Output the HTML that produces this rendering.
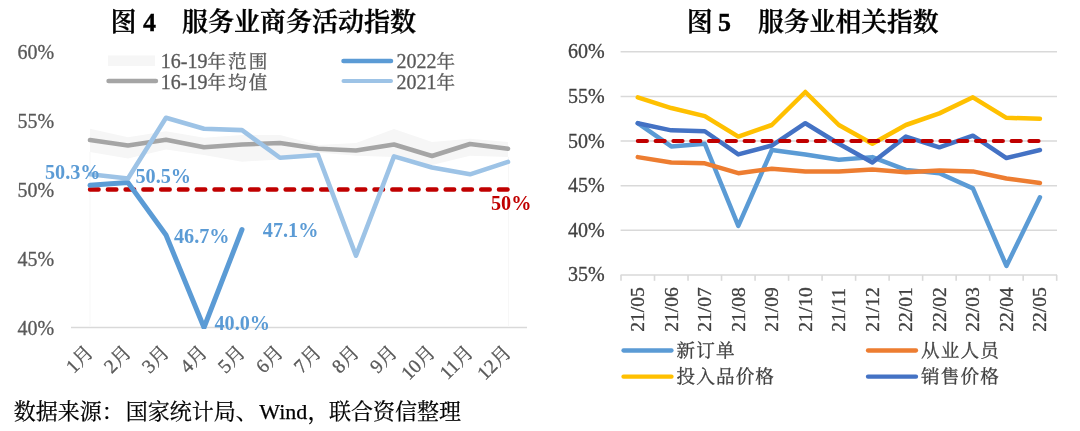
<!DOCTYPE html>
<html lang="zh-CN"><head><meta charset="utf-8"><title>服务业指数</title>
<style>
html,body{margin:0;padding:0;background:#fff;}
body{width:1080px;height:431px;overflow:hidden;}
svg{display:block;}
text{font-family:"Liberation Serif","Noto Serif CJK SC",serif;}
.ttl{font-weight:600;font-size:26px;fill:#000;stroke:#000;stroke-width:0.35px;}
.ax{font-size:20px;fill:#595959;stroke:#595959;stroke-width:0.3px;}
#right .ax,#right .lg{fill:#404040;stroke:#404040;}
.lg{font-size:20px;fill:#595959;stroke:#595959;stroke-width:0.3px;}
.dl{font-size:20.2px;font-weight:bold;fill:#5B9BD5;}
.src{font-size:22px;fill:#000;stroke:#000;stroke-width:0.25px;}
text .cj,text.cj{font-size:18.6px;letter-spacing:2px;}
#right text.cj{font-size:18.6px;letter-spacing:1.1px;}
.ln{fill:none;stroke-linejoin:round;stroke-linecap:round;}
</style></head><body>
<svg width="1080" height="431" viewBox="0 0 1080 431">
<rect width="1080" height="431" fill="#fff"/>

<g id="left">
<text class="ttl" x="110.4" y="30.5">图 4</text>
<text class="ttl" x="182" y="30.5">服务业商务活动指数</text>
<text class="ax" x="17.5" y="58.5">60%</text>
<text class="ax" x="17.5" y="127.5">55%</text>
<text class="ax" x="17.5" y="196.5">50%</text>
<text class="ax" x="17.5" y="265.5">45%</text>
<text class="ax" x="17.5" y="334.5">40%</text>
<line x1="71" y1="327.53" x2="527" y2="327.53" stroke="#D9D9D9" stroke-width="1.5"/>
<polygon points="90,128.7 128,137.2 166,131.3 204,137.7 242,135 280,135 318,145 356,143 394,129 432,142 470,138.7 508,142 508,157 470,155.7 432,165 394,157 356,155.7 318,152.5 280,159.4 242,161.7 204,155 166,149.4 128,158.5 90,152" fill="#F6F6F6"/>
<path d="M90 152V327M508.5 157V327" stroke="#F7F7F7" stroke-width="1" fill="none"/>
<polyline class="ln" points="90,140 128,145.5 166,139.7 204,147.3 242,144.5 280,143 318,148.7 356,150.5 394,144.5 432,156 470,144 508,148.7" stroke="#A5A5A5" stroke-width="4.6"/>
<line class="ln" x1="90" y1="189.5" x2="508" y2="189.5" stroke="#C00000" stroke-width="4.4" stroke-dasharray="8.6 9.18"/>
<clipPath id="lc"><rect x="60" y="40" width="480" height="289"/></clipPath>
<polyline class="ln" clip-path="url(#lc)" points="90,185.36 128,182.6 166,235.04 204,327.5 242,229.52" stroke="#5B9BD5" stroke-width="5"/>
<polyline class="ln" points="90,174.32 128,178.46 166,117.74 204,128.78 242,130.16 280,157.76 318,155 356,255.74 394,156.38 432,167.42 470,174.32 508,161.9" stroke="#9DC3E6" stroke-width="4.6"/>
<rect x="108" y="55.5" width="47" height="10.5" fill="#F6F6F6"/>
<text class="lg" x="160.8" y="67.5">16-19<tspan class="cj">年范围</tspan></text>
<line class="ln" x1="108.5" y1="81" x2="156" y2="81" stroke="#A5A5A5" stroke-width="4.4"/>
<text class="lg" x="160.8" y="88.5">16-19<tspan class="cj">年均值</tspan></text>
<line class="ln" x1="343.5" y1="61" x2="391" y2="61" stroke="#5B9BD5" stroke-width="4.5"/>
<text class="lg" x="396.5" y="67.5">2022<tspan class="cj">年</tspan></text>
<line class="ln" x1="343.5" y1="81" x2="391" y2="81" stroke="#9DC3E6" stroke-width="4"/>
<text class="lg" x="396.5" y="88.5">2021<tspan class="cj">年</tspan></text>
<text class="dl" x="45" y="178.5">50.3%</text>
<text class="dl" x="135.5" y="183">50.5%</text>
<text class="dl" x="174" y="243">46.7%</text>
<text class="dl" x="262.8" y="236.8">47.1%</text>
<text class="dl" x="214.5" y="329.7">40.0%</text>
<text class="dl" x="491" y="210" style="fill:#C00000">50%</text>
<text class="ax" style="font-size:19.5px" text-anchor="end" transform="translate(94.5,353.5) rotate(-45)">1月</text>
<text class="ax" style="font-size:19.5px" text-anchor="end" transform="translate(132.5,353.5) rotate(-45)">2月</text>
<text class="ax" style="font-size:19.5px" text-anchor="end" transform="translate(170.5,353.5) rotate(-45)">3月</text>
<text class="ax" style="font-size:19.5px" text-anchor="end" transform="translate(208.5,353.5) rotate(-45)">4月</text>
<text class="ax" style="font-size:19.5px" text-anchor="end" transform="translate(246.5,353.5) rotate(-45)">5月</text>
<text class="ax" style="font-size:19.5px" text-anchor="end" transform="translate(284.5,353.5) rotate(-45)">6月</text>
<text class="ax" style="font-size:19.5px" text-anchor="end" transform="translate(322.5,353.5) rotate(-45)">7月</text>
<text class="ax" style="font-size:19.5px" text-anchor="end" transform="translate(360.5,353.5) rotate(-45)">8月</text>
<text class="ax" style="font-size:19.5px" text-anchor="end" transform="translate(398.5,353.5) rotate(-45)">9月</text>
<text class="ax" style="font-size:19.5px" text-anchor="end" transform="translate(436.5,353.5) rotate(-45)">10月</text>
<text class="ax" style="font-size:19.5px" text-anchor="end" transform="translate(474.5,353.5) rotate(-45)">11月</text>
<text class="ax" style="font-size:19.5px" text-anchor="end" transform="translate(512.5,353.5) rotate(-45)">12月</text>
<text class="src" y="419"><tspan x="13.8">数据来源：</tspan><tspan x="125.8">国家统计局、</tspan><tspan x="259.3">Wind</tspan><tspan x="307.5">，</tspan><tspan x="329">联合资信整理</tspan></text>
</g>
<g id="right">
<text class="ttl" x="686.8" y="30.5" style="word-spacing:-1.3px">图 5</text>
<text class="ttl" x="758" y="30.5" style="font-size:25.8px">服务业相关指数</text>
<text class="ax" x="568" y="58.33">60%</text>
<line x1="620.6" y1="51.83" x2="1057" y2="51.83" stroke="#D9D9D9" stroke-width="1.5"/>
<text class="ax" x="568" y="102.94">55%</text>
<line x1="620.6" y1="96.44" x2="1057" y2="96.44" stroke="#D9D9D9" stroke-width="1.5"/>
<text class="ax" x="568" y="147.56">50%</text>
<line x1="620.6" y1="141.06" x2="1057" y2="141.06" stroke="#D9D9D9" stroke-width="1.5"/>
<text class="ax" x="568" y="192.18">45%</text>
<line x1="620.6" y1="185.68" x2="1057" y2="185.68" stroke="#D9D9D9" stroke-width="1.5"/>
<text class="ax" x="568" y="236.79">40%</text>
<line x1="620.6" y1="230.29" x2="1057" y2="230.29" stroke="#D9D9D9" stroke-width="1.5"/>
<text class="ax" x="568" y="281.4">35%</text>
<line x1="620.6" y1="274.9" x2="1057" y2="274.9" stroke="#D9D9D9" stroke-width="1.5"/>
<line x1="621" y1="274.9" x2="621" y2="280.8" stroke="#D9D9D9" stroke-width="1.6"/>
<line x1="654.51" y1="274.9" x2="654.51" y2="280.8" stroke="#D9D9D9" stroke-width="1.6"/>
<line x1="688.03" y1="274.9" x2="688.03" y2="280.8" stroke="#D9D9D9" stroke-width="1.6"/>
<line x1="721.54" y1="274.9" x2="721.54" y2="280.8" stroke="#D9D9D9" stroke-width="1.6"/>
<line x1="755.06" y1="274.9" x2="755.06" y2="280.8" stroke="#D9D9D9" stroke-width="1.6"/>
<line x1="788.58" y1="274.9" x2="788.58" y2="280.8" stroke="#D9D9D9" stroke-width="1.6"/>
<line x1="822.09" y1="274.9" x2="822.09" y2="280.8" stroke="#D9D9D9" stroke-width="1.6"/>
<line x1="855.61" y1="274.9" x2="855.61" y2="280.8" stroke="#D9D9D9" stroke-width="1.6"/>
<line x1="889.12" y1="274.9" x2="889.12" y2="280.8" stroke="#D9D9D9" stroke-width="1.6"/>
<line x1="922.63" y1="274.9" x2="922.63" y2="280.8" stroke="#D9D9D9" stroke-width="1.6"/>
<line x1="956.15" y1="274.9" x2="956.15" y2="280.8" stroke="#D9D9D9" stroke-width="1.6"/>
<line x1="989.66" y1="274.9" x2="989.66" y2="280.8" stroke="#D9D9D9" stroke-width="1.6"/>
<line x1="1023.18" y1="274.9" x2="1023.18" y2="280.8" stroke="#D9D9D9" stroke-width="1.6"/>
<line x1="1056.69" y1="274.9" x2="1056.69" y2="280.8" stroke="#D9D9D9" stroke-width="1.6"/>
<polyline class="ln" points="637.76,123.21 671.27,146.41 704.79,143.74 738.3,225.83 771.82,149.98 805.34,154.44 838.85,159.8 872.37,157.12 905.88,169.88 939.39,173.18 972.91,188.35 1006.42,265.98 1039.94,197.27" stroke="#5B9BD5" stroke-width="4.5"/>
<polyline class="ln" points="637.76,157.12 671.27,162.48 704.79,163.37 738.3,173.18 771.82,168.72 805.34,171.4 838.85,171.4 872.37,169.61 905.88,172.29 939.39,170.51 972.91,171.4 1006.42,178.54 1039.94,183" stroke="#ED7D31" stroke-width="4.5"/>
<polyline class="ln" points="637.76,97.34 671.27,108.04 704.79,116.08 738.3,136.6 771.82,125 805.34,91.98 838.85,125 872.37,143.74 905.88,125 939.39,113.4 972.91,97.34 1006.42,117.86 1039.94,118.75" stroke="#FFC000" stroke-width="4.5"/>
<polyline class="ln" points="637.76,123.21 671.27,130.35 704.79,131.24 738.3,154.44 771.82,145.52 805.34,123.21 838.85,143.74 872.37,162.48 905.88,136.6 939.39,147.31 972.91,135.71 1006.42,158.01 1039.94,149.98" stroke="#4472C4" stroke-width="4.5"/>
<line class="ln" x1="637.76" y1="141.06" x2="1039.94" y2="141.06" stroke="#C00000" stroke-width="4" stroke-dasharray="9.2 8.6"/>
<text class="ax" style="font-size:19.5px" transform="translate(644.16,331.7) rotate(-90)">21/05</text>
<text class="ax" style="font-size:19.5px" transform="translate(677.67,331.7) rotate(-90)">21/06</text>
<text class="ax" style="font-size:19.5px" transform="translate(711.19,331.7) rotate(-90)">21/07</text>
<text class="ax" style="font-size:19.5px" transform="translate(744.7,331.7) rotate(-90)">21/08</text>
<text class="ax" style="font-size:19.5px" transform="translate(778.22,331.7) rotate(-90)">21/09</text>
<text class="ax" style="font-size:19.5px" transform="translate(811.74,331.7) rotate(-90)">21/10</text>
<text class="ax" style="font-size:19.5px" transform="translate(845.25,331.7) rotate(-90)">21/11</text>
<text class="ax" style="font-size:19.5px" transform="translate(878.76,331.7) rotate(-90)">21/12</text>
<text class="ax" style="font-size:19.5px" transform="translate(912.28,331.7) rotate(-90)">22/01</text>
<text class="ax" style="font-size:19.5px" transform="translate(945.79,331.7) rotate(-90)">22/02</text>
<text class="ax" style="font-size:19.5px" transform="translate(979.31,331.7) rotate(-90)">22/03</text>
<text class="ax" style="font-size:19.5px" transform="translate(1012.82,331.7) rotate(-90)">22/04</text>
<text class="ax" style="font-size:19.5px" transform="translate(1046.34,331.7) rotate(-90)">22/05</text>
<line class="ln" x1="623.5" y1="350.5" x2="671.5" y2="350.5" stroke="#5B9BD5" stroke-width="4.3"/>
<text class="lg cj" x="676.6" y="357.2">新订单</text>
<line class="ln" x1="868" y1="350.5" x2="916" y2="350.5" stroke="#ED7D31" stroke-width="4.3"/>
<text class="lg cj" x="921.1" y="357.2">从业人员</text>
<line class="ln" x1="623.5" y1="376.7" x2="671.5" y2="376.7" stroke="#FFC000" stroke-width="4.3"/>
<text class="lg cj" x="676.6" y="383.4">投入品价格</text>
<line class="ln" x1="868" y1="376.7" x2="916" y2="376.7" stroke="#4472C4" stroke-width="4.3"/>
<text class="lg cj" x="921.1" y="383.4">销售价格</text>
</g>
</svg></body></html>
